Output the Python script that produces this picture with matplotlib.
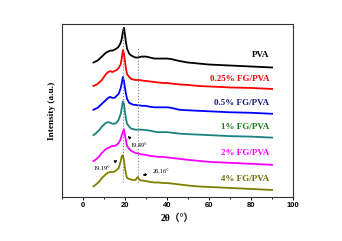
import matplotlib
matplotlib.use('Agg')
import matplotlib.pyplot as plt
from matplotlib.ticker import MultipleLocator

# 2theta grid (degrees) and intensity above each curve's tail
tt = [5, 6, 7, 8, 9, 10, 11, 12, 13, 14, 15, 16, 17, 18, 18.5, 19, 19.5, 20, 20.5, 21,
      22, 23, 24, 25, 26, 27, 28, 30, 32, 34, 36, 38, 40, 42, 44, 46, 50, 55, 60, 70, 80, 90]

pva = [5, 6, 7, 9, 11, 13, 15, 16, 17, 17, 18, 19, 21, 25, 29, 36, 40, 33, 25, 19,
       14, 12, 11, 10, 10, 10.5, 11, 11, 10, 9, 9, 9, 9, 8.5, 7.5, 6.5, 5, 4, 3, 2, 1, 0]
fg025 = [3, 4, 5, 7, 9, 12, 15, 17, 18, 17, 18, 19, 21, 25, 31, 39, 36, 28, 20, 15,
         12, 10, 9.5, 9, 9, 9, 8.5, 8, 7.5, 7, 6.5, 6, 6, 5.5, 5, 4.5, 4, 3, 2.5, 1.5, 1, 0]
fg05 = [4, 5, 6, 8, 10, 12, 14, 16, 17, 16, 16, 18, 20, 26, 31, 37, 33, 26, 20, 15,
        11, 10, 9, 9, 8.5, 8.5, 8, 8, 7, 6.5, 6.5, 6.5, 6.5, 6, 5, 4, 3.5, 3, 2.5, 1.5, 1, 0]
fg1 = [2.5, 4, 6, 8, 11, 13, 15, 15.5, 15, 14, 14, 15, 18, 24, 30, 36.5, 34, 26, 19, 14,
       11, 9, 8.5, 8, 8, 8, 8, 7.5, 7, 6, 5.5, 5.5, 5.5, 5, 4.5, 4, 3.5, 3, 2.5, 1.5, 1, 0]
fg2 = [3.7, 5, 7, 9, 12, 14, 16, 17, 18, 19, 19, 20, 22, 26, 30, 33, 35.7, 30, 24, 19,
       16, 14, 13, 12, 11.5, 11, 10.5, 10, 9, 8.5, 8, 8, 7.5, 7, 6.5, 6, 5, 4, 3, 2, 1, 0]
fg4 = [3.7, 5, 7, 9, 12, 14, 16, 17.5, 18, 18, 18.5, 20, 22, 29, 34, 35, 30, 22, 16, 12,
       11, 10.5, 10, 10, 13, 10, 9.5, 9, 8, 7.5, 7.5, 7, 7, 6.5, 6, 5.5, 4.5, 3.5, 3, 2, 1, 0]

names = ['PVA', '0.25% FG/PVA', '0.5% FG/PVA', '1% FG/PVA', '2% FG/PVA', '4% FG/PVA']
series = [pva, fg025, fg05, fg1, fg2, fg4]
offsets = [130.3, 108.7, 83.7, 59.7, 32.3, 7]
label_y = [143, 119, 95, 70, 44, 18]
colors = ['black', '#ff0000', '#0000ff', '#1a8080', '#ff00ff', '#808000']
text_colors = ['black', '#ff0000', '#1a1a80', '#1a7a1a', '#ff00ff', '#6b6b00']

fig = plt.figure(figsize=(3.42, 2.41), dpi=100)
ax = fig.add_axes([0.181, 0.183, 0.676, 0.717])

for s, off, c in zip(series, offsets, colors):
    ax.plot(tt, [v + off for v in s], color=c, lw=1.3)

for name, y, c in zip(names, label_y, text_colors):
    ax.text(88.6, y, name, color=c, ha='right', va='center', fontsize=6.5,
            fontweight='bold', family='Liberation Serif')

# reference lines
ax.plot([19.19, 19.19], [15, 170], ls=':', color='gray', lw=0.8)
ax.plot([26.16, 26.16], [15, 151], ls=':', color='gray', lw=0.8)

ann = dict(fontsize=4.5, family='Liberation Serif', ha='center', va='center')
arr = dict(arrowstyle='-|>', color='black', lw=0.6, mutation_scale=4)
ax.annotate('19.49°', xy=(20.3, 63), xytext=(26.4, 52), arrowprops=arr, **ann)
ax.annotate('19.19°', xy=(17.6, 38), xytext=(9.0, 29), arrowprops=arr, **ann)
ax.annotate('26.16°', xy=(27.1, 21.3), xytext=(37.0, 25.3), arrowprops=arr, **ann)

ax.set_xlim(-10, 100)
ax.set_ylim(0, 174)
ax.set_yticks([])
ax.xaxis.set_major_locator(MultipleLocator(20))
ax.xaxis.set_minor_locator(MultipleLocator(10))
ax.tick_params(axis='x', which='major', direction='out', length=2.5, width=0.7, pad=1.5)
ax.tick_params(axis='x', which='minor', direction='out', length=1.5, width=0.6)
for lab in ax.get_xticklabels():
    lab.set_fontsize(5.5)
    lab.set_fontweight('bold')
    lab.set_family('Liberation Sans')
for sp in ax.spines.values():
    sp.set_linewidth(0.8)
    sp.set_color('#333333')

ax.set_xlabel('2θ（°）', fontsize=7, fontweight='bold',
              family=['Liberation Serif', 'Noto Sans CJK SC'], labelpad=3)
ax.set_ylabel('Intensity (a.u.)', fontsize=6.7, fontweight='bold',
              family='Liberation Serif', labelpad=4)

fig.savefig('out.png', dpi=100)
